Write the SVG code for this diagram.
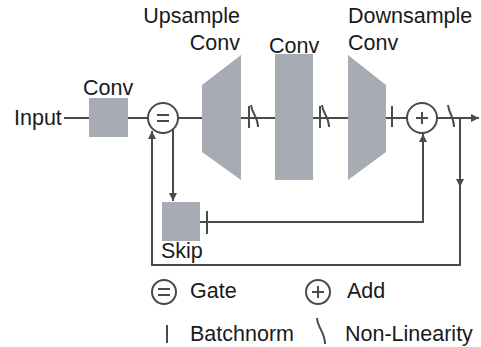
<svg xmlns="http://www.w3.org/2000/svg" width="481" height="347" viewBox="0 0 481 347">
<style>
.t{font-family:"Liberation Sans",Arial,sans-serif;font-size:21.5px;fill:#1a1a1a}
.s{fill:#a7abb3;stroke:none}
.l{fill:none;stroke:#4a4a4a;stroke-width:2}
.c{fill:#fff;stroke:#4a4a4a;stroke-width:2}
</style>
<defs>
<marker id="ah" markerWidth="8" markerHeight="8" refX="8" refY="4" orient="auto" markerUnits="userSpaceOnUse">
<path d="M0,0 L8,4 L0,8 Z" fill="#4a4a4a"/>
</marker>
</defs>
<rect width="481" height="347" fill="#fff"/>
<g id="connectors">
<path class="l" d="M64,118 H89"/>
<path class="l" d="M128,118 H148"/>
<path class="l" d="M178,118 H202"/>
<path class="l" d="M241,118 H275"/>
<path class="l" d="M313,118 H348"/>
<path class="l" d="M386,118 H407"/>
<path class="l" d="M437,118 H479" marker-end="url(#ah)"/>
<path class="l" d="M173,129 V201" marker-end="url(#ah)"/>
<path class="l" d="M200,222 H423 V134" marker-end="url(#ah)"/>
<path class="l" d="M460,118 V187" marker-end="url(#ah)"/>
<path class="l" d="M460,185 V265 H152 V131" marker-end="url(#ah)"/>
<path class="l" d="M249,106 V128"/>
<path class="l" d="M251,105 C252,114 258,117 258,127"/>
<path class="l" d="M320,106 V128"/>
<path class="l" d="M322,105 C323,114 329,117 329,127"/>
<path class="l" d="M392,106 V127"/>
<path class="l" d="M448,105 C449,114 454,117 454,127"/>
<path class="l" d="M207,211 V234"/>
</g>
<g id="input"><text class="t" x="14" y="125">Input</text></g>
<g id="conv1">
<rect class="s" x="89" y="98" width="39" height="39"/>
<text class="t" x="83" y="95">Conv</text>
</g>
<g id="gate">
<circle class="c" cx="163" cy="118" r="15"/>
<path class="l" d="M157,115 H169 M157,121 H169"/>
</g>
<g id="upsample">
<polygon class="s" points="202,85 241,55 241,180 202,152"/>
<text class="t" x="240" y="23" text-anchor="end">Upsample</text>
<text class="t" x="240" y="50" text-anchor="end">Conv</text>
</g>
<g id="conv2">
<rect class="s" x="275" y="54" width="38" height="126"/>
<text class="t" x="269" y="53">Conv</text>
</g>
<g id="downsample">
<polygon class="s" points="348,55 386,85 386,152 348,180"/>
<text class="t" x="348" y="23">Downsample</text>
<text class="t" x="348" y="50">Conv</text>
</g>
<g id="add">
<circle class="c" cx="422" cy="118" r="15"/>
<path class="l" d="M416,118 H428 M422,112 V124"/>
</g>
<g id="skip">
<rect class="s" x="162" y="202" width="38" height="39"/>
<text class="t" x="161" y="258">Skip</text>
</g>
<g id="legend">
<circle class="c" cx="164" cy="292" r="12"/>
<path class="l" d="M158,289 H170 M158,295 H170"/>
<text class="t" x="190" y="298">Gate</text>
<circle class="c" cx="318" cy="292" r="12"/>
<path class="l" d="M312,292 H324 M318,286 V298"/>
<text class="t" x="347" y="298">Add</text>
<path class="l" d="M167,325 V343"/>
<text class="t" x="190" y="341">Batchnorm</text>
<path class="l" d="M317,318 C318,329 325,332 325,344"/>
<text class="t" x="345" y="341">Non-Linearity</text>
</g>
</svg>
